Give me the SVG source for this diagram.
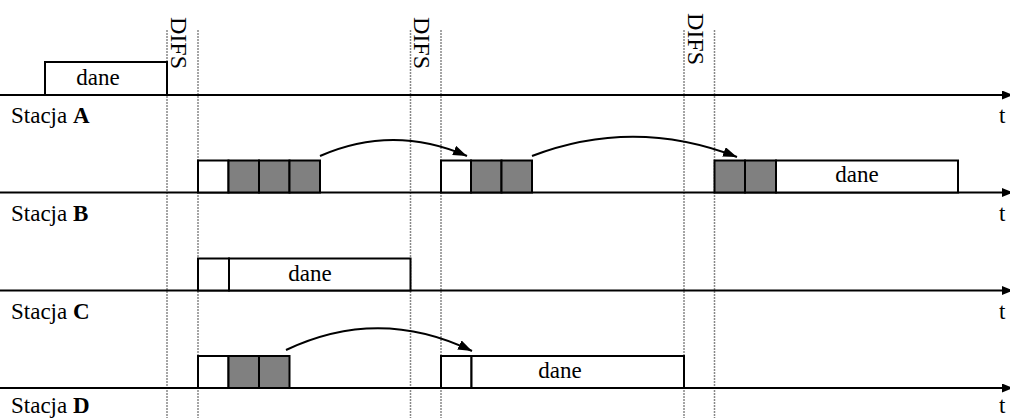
<svg xmlns="http://www.w3.org/2000/svg" width="1010" height="418" viewBox="0 0 1010 418">
<defs>
<style>
.ax{stroke:#000;stroke-width:2;fill:none}
.guide{stroke:#888;stroke-width:1.5;stroke-dasharray:2 1;fill:none}
.box{fill:#fff;stroke:#000;stroke-width:2}
.bo{fill:#808080;stroke:#000;stroke-width:2}
.t{font-size:23px;fill:#000}
.difs{font-size:24px;fill:#000}
.cur{stroke:#000;stroke-width:2;fill:none}
</style>
<marker id="ah" viewBox="0 0 10 10" refX="10" refY="5" markerWidth="7" markerHeight="5" markerUnits="strokeWidth" orient="auto" preserveAspectRatio="none">
<path d="M0,0 L10,5 L0,10 z" fill="#000"/>
</marker>
<marker id="axh" viewBox="0 0 10 10" refX="10" refY="5" markerWidth="4" markerHeight="4.5" markerUnits="strokeWidth" orient="auto" preserveAspectRatio="none">
<path d="M0,0 L10,3.5 L10,6.5 L0,10 z" fill="#000"/>
</marker>
</defs>
<g font-family="'Liberation Serif', 'DejaVu Serif', 'Times New Roman', serif">
<g id="guides">
<line class="guide" x1="167" y1="30" x2="167" y2="418"/>
<line class="guide" x1="198" y1="30" x2="198" y2="418"/>
<line class="guide" x1="410.5" y1="30" x2="410.5" y2="418"/>
<line class="guide" x1="441" y1="30" x2="441" y2="418"/>
<line class="guide" x1="684" y1="30" x2="684" y2="418"/>
<line class="guide" x1="714.5" y1="30" x2="714.5" y2="418"/>
<text class="difs" transform="translate(170.5,17) rotate(90)">DIFS</text>
<text class="difs" transform="translate(413.5,17) rotate(90)">DIFS</text>
<text class="difs" transform="translate(687.5,13) rotate(90)">DIFS</text>
</g>
<g id="stationA">
<line class="ax" x1="0" y1="95" x2="1010" y2="95" marker-end="url(#axh)"/>
<rect class="box" x="45" y="62" width="122" height="33"/>
<text class="t" x="98" y="85" text-anchor="middle">dane</text>
<text class="t" x="11" y="123">Stacja <tspan font-weight="bold">A</tspan></text>
<text class="t" x="999" y="123">t</text>
</g>
<g id="stationB">
<line class="ax" x1="0" y1="192.5" x2="1010" y2="192.5" marker-end="url(#axh)"/>
<rect class="box" x="198" y="160.5" width="30.5" height="32"/>
<rect class="bo" x="228.5" y="160.5" width="30.5" height="32"/>
<rect class="bo" x="259" y="160.5" width="30.5" height="32"/>
<rect class="bo" x="289.5" y="160.5" width="30.5" height="32"/>
<rect class="box" x="441" y="160.5" width="30" height="32"/>
<rect class="bo" x="471" y="160.5" width="30.5" height="32"/>
<rect class="bo" x="501.5" y="160.5" width="30.5" height="32"/>
<rect class="bo" x="714.5" y="160.5" width="30.5" height="32"/>
<rect class="bo" x="745" y="160.5" width="31" height="32"/>
<rect class="box" x="776" y="160.5" width="182" height="32"/>
<text class="t" x="857" y="182" text-anchor="middle">dane</text>
<text class="t" x="11" y="221">Stacja <tspan font-weight="bold">B</tspan></text>
<text class="t" x="999" y="221">t</text>
</g>
<g id="stationC">
<line class="ax" x1="0" y1="290.5" x2="1010" y2="290.5" marker-end="url(#axh)"/>
<rect class="box" x="198" y="258.5" width="31" height="32"/>
<rect class="box" x="229" y="258.5" width="181.5" height="32"/>
<text class="t" x="310" y="280.5" text-anchor="middle">dane</text>
<text class="t" x="11" y="319">Stacja <tspan font-weight="bold">C</tspan></text>
<text class="t" x="999" y="319">t</text>
</g>
<g id="stationD">
<line class="ax" x1="0" y1="388" x2="1010" y2="388" marker-end="url(#axh)"/>
<rect class="box" x="198" y="356" width="30.5" height="32"/>
<rect class="bo" x="228.5" y="356" width="30.5" height="32"/>
<rect class="bo" x="259" y="356" width="30.5" height="32"/>
<rect class="box" x="441" y="356" width="30.5" height="32"/>
<rect class="box" x="471.5" y="356" width="212.5" height="32"/>
<text class="t" x="560" y="378" text-anchor="middle">dane</text>
<text class="t" x="11" y="413">Stacja <tspan font-weight="bold">D</tspan></text>
<text class="t" x="999" y="413">t</text>
</g>
</g>
<g id="connectors">
<path class="cur" d="M320,156 Q393,124 467,156" marker-end="url(#ah)"/>
<path class="cur" d="M532,156 Q634,117 737,157" marker-end="url(#ah)"/>
<path class="cur" d="M286,350 Q379,306 472,351" marker-end="url(#ah)"/>
</g>
</svg>
